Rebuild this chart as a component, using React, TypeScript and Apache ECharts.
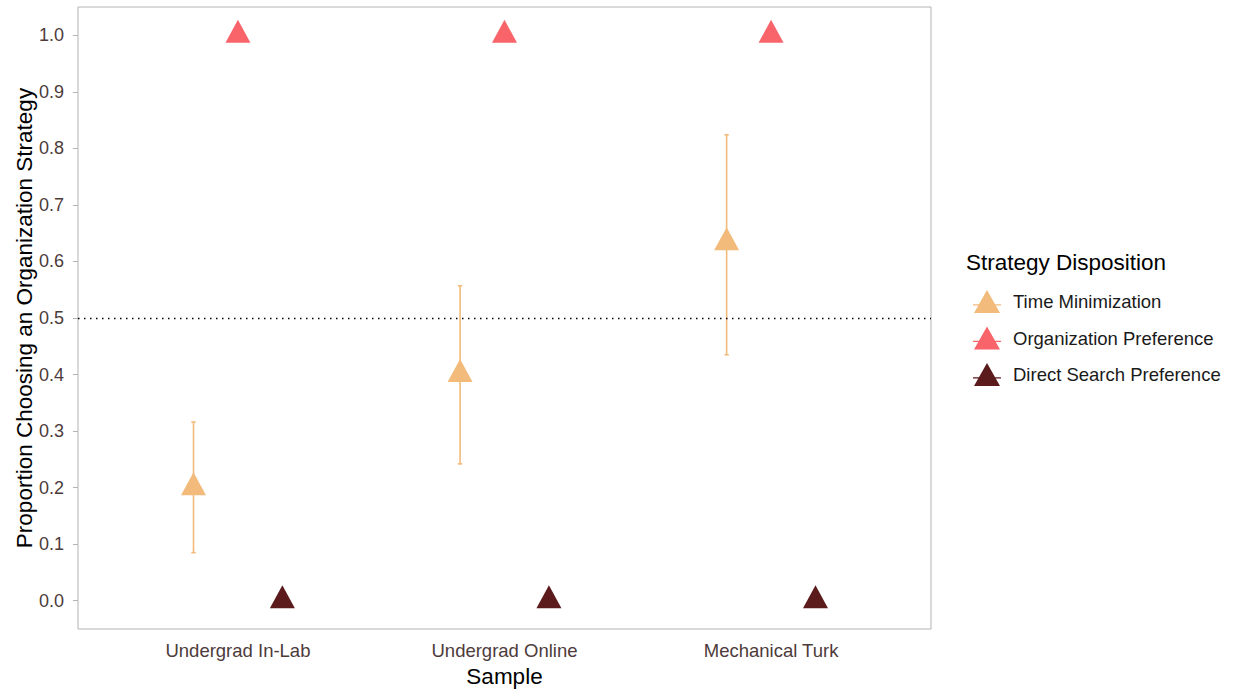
import React, { useEffect, useRef } from "react";
import * as echarts from "echarts";

const categories = ["Undergrad In-Lab", "Undergrad Online", "Mechanical Turk"];
const seriesNames = ["Time Minimization", "Organization Preference", "Direct Search Preference"];
const timeMin = [0.2, 0.4, 0.633];
const timeMinLow = [0.085, 0.242, 0.435];
const timeMinHigh = [0.316, 0.557, 0.824];
const orgPref = [1, 1, 1];
const directSearch = [0, 0, 0];
const yTicks = [0, 0.1, 0.2, 0.3, 0.4, 0.5, 0.6, 0.7, 0.8, 0.9, 1.0];
const refLine = 0.5;

const colors = ["#F2BB7B", "#F9636A", "#5B1A1B"];
const dodge = [-1 / 6, 0, 1 / 6];
const FONT = "Liberation Sans, Arial, Helvetica, sans-serif";
const tri = "path://M1,23L14,0L27,23Z";
const legendIcon = "path://M1,23L14,0L27,23Z M0,14.2L28,14.2L28,15.6L0,15.6Z";

export default function App() {
  const ref = useRef<HTMLDivElement>(null);
  useEffect(() => {
    if (!ref.current) return;
    const chart = echarts.init(ref.current, null, { renderer: "svg" });
    const mk = (vals: number[], i: number) =>
      vals.map((v, k) => [k + 1 + dodge[i], v]);
    const option: any = {
      animation: false,
      backgroundColor: "#ffffff",
      textStyle: { fontFamily: FONT },
      title: {
        text: "Strategy Disposition",
        left: 961,
        top: 246,
        textStyle: { fontFamily: FONT, fontSize: 22.5, fontWeight: "normal", color: "#000" },
      },
      legend: {
        orient: "vertical",
        left: 968,
        top: 285,
        itemWidth: 28,
        itemHeight: 23,
        itemGap: 13.5,
        data: seriesNames.map((n) => ({ name: n, icon: legendIcon })),
        textStyle: { fontFamily: FONT, fontSize: 18.5, color: "#1a1a1a", padding: [0, 0, 0, 7] },
      },
      grid: {
        left: 78,
        right: 302,
        top: 7,
        bottom: 60,
        show: true,
        borderColor: "#b3b3b3",
        borderWidth: 1,
        containLabel: false,
        outerBoundsMode: "none",
      },
      xAxis: {
        type: "value",
        min: 0.4,
        max: 3.6,
        splitLine: { show: false },
        axisLine: { show: false },
        axisTick: { show: false },
        axisLabel: {
          customValues: [1, 2, 3],
          formatter: (v: number) => categories[Math.round(v) - 1] ?? "",
          fontFamily: FONT,
          fontSize: 18.5,
          color: "#4D3B3A",
          margin: 12,
        },
        name: "Sample",
        nameLocation: "middle",
        nameGap: 36,
        nameTextStyle: { fontFamily: FONT, fontSize: 22.5, color: "#000" },
      },
      yAxis: {
        type: "value",
        min: -0.05,
        max: 1.05,
        splitLine: { show: false },
        axisLine: { show: false },
        axisTick: {
          show: true,
          customValues: yTicks,
          length: 5,
          lineStyle: { color: "#b3b3b3", width: 1 },
        },
        axisLabel: {
          customValues: yTicks,
          formatter: (v: number) => v.toFixed(1),
          fontFamily: FONT,
          fontSize: 18,
          color: "#4D3B3A",
          margin: 14,
        },
        name: "Proportion Choosing an Organization Strategy",
        nameLocation: "middle",
        nameRotate: 90,
        nameGap: 42,
        nameMoveOverlap: false,
        nameTextStyle: { fontFamily: FONT, fontSize: 22.5, color: "#000" },
      },
      series: [
        {
          type: "custom",
          name: "errbar",
          z: 1,
          silent: true,
          data: timeMin.map((_, k) => [k + 1 + dodge[0], timeMinLow[k], timeMinHigh[k]]),
          renderItem: (params: any, api: any) => {
            const x = api.value(0);
            const lo = api.coord([x, api.value(1)]);
            const hi = api.coord([x, api.value(2)]);
            const style = { stroke: colors[0], lineWidth: 1.6 };
            const w = 2.2;
            return {
              type: "group",
              children: [
                { type: "line", shape: { x1: lo[0], y1: lo[1], x2: hi[0], y2: hi[1] }, style },
                { type: "line", shape: { x1: lo[0] - w, y1: lo[1], x2: lo[0] + w, y2: lo[1] }, style },
                { type: "line", shape: { x1: hi[0] - w, y1: hi[1], x2: hi[0] + w, y2: hi[1] }, style },
              ],
            };
          },
        },
        {
          type: "scatter",
          name: seriesNames[0],
          z: 3,
          symbol: tri,
          symbolSize: [25, 23],
          symbolOffset: [0, -4],
          itemStyle: { color: colors[0], opacity: 1 },
          data: mk(timeMin, 0),
        },
        {
          type: "scatter",
          name: seriesNames[1],
          z: 3,
          symbol: tri,
          symbolSize: [25, 23],
          symbolOffset: [0, -4],
          itemStyle: { color: colors[1], opacity: 1 },
          data: mk(orgPref, 1),
          markLine: {
            silent: true,
            symbol: "none",
            label: { show: false },
            lineStyle: { color: "#000", type: [1.5, 4.5], width: 1.4 },
            data: [{ yAxis: refLine }],
          },
        },
        {
          type: "scatter",
          name: seriesNames[2],
          z: 3,
          symbol: tri,
          symbolSize: [25, 23],
          symbolOffset: [0, -4],
          itemStyle: { color: colors[2], opacity: 1 },
          data: mk(directSearch, 2),
        },
      ],
    };
    chart.setOption(option);
    return () => chart.dispose();
  }, []);
  return <div ref={ref} style={{ width: 1233, height: 689, position: "absolute", left: 0, top: 0 }} />;
}
